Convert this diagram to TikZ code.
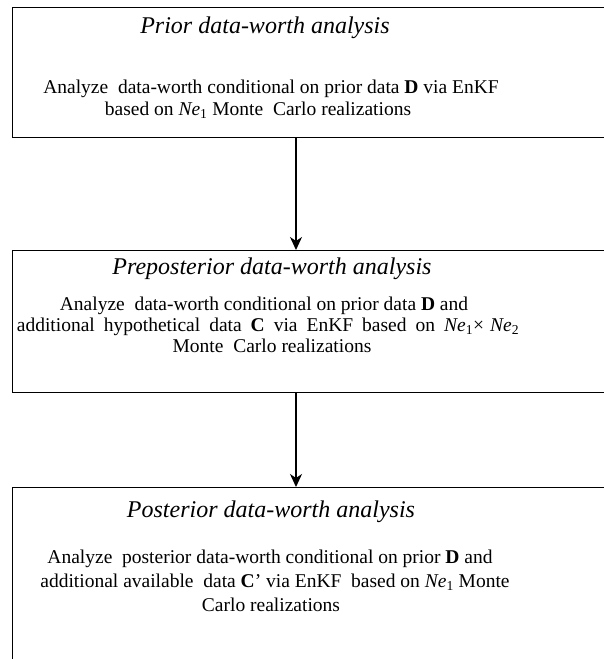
\documentclass[tikz,border=0pt]{standalone}
\usepackage{fontspec}
\setmainfont{Liberation Serif}
\usetikzlibrary{arrows.meta}
\begin{document}
\begin{tikzpicture}[x=1pt,y=-1pt,
  box/.style={draw, line width=1.4pt, anchor=north west, minimum width=620pt, inner sep=0pt},
  ttl/.style={anchor=base, inner sep=0pt, font=\fontsize{24}{28}\selectfont\itshape},
  txt/.style={anchor=base, inner sep=0pt, font=\fontsize{19.5}{22}\selectfont},
  arr/.style={line width=1.4pt, -{Stealth[length=13pt,width=12pt,inset=4pt]}}]
\useasboundingbox (0,0) rectangle (603,659);
\fill[white] (0,0) rectangle (603,659);

% three stages
\node[box, minimum height=130pt] (b1) at (12,7) {};
\node[box, minimum height=142pt] (b2) at (12,250) {};
\node[box, minimum height=200pt] (b3) at (12,487) {};

% stage 1
\node[ttl] (h1) at (265,33) {Prior data-worth analysis};
\node[txt] (l11) at (271,93) {Analyze\ \ data-worth conditional on prior data \textbf{D} via EnKF};
\node[txt] (l12) at (258,115) {based on \textit{Ne}\textsubscript{1} Monte\ \ Carlo realizations};

% stage 2
\node[ttl] (h2) at (272,274) {Preposterior data-worth analysis};
\node[txt] (l21) at (264,310) {Analyze\ \ data-worth conditional on prior data \textbf{D} and};
\node[txt] (l22) at (268,331) {\spaceskip=9pt additional hypothetical data \textbf{C} via EnKF based on \textit{Ne}\textsubscript{1}×\hspace{-3pt} \textit{Ne}\textsubscript{2}};
\node[txt] (l23) at (272,352) {Monte\ \ Carlo realizations};

% stage 3
\node[ttl] (h3) at (271,517) {Posterior data-worth analysis};
\node[txt] (l31) at (270,563) {Analyze\ \ posterior data-worth conditional on prior \textbf{D} and};
\node[txt] (l32) at (275,587) {additional available\ \ data \textbf{C}’ via EnKF\ \ based on \textit{Ne}\textsubscript{1} Monte};
\node[txt] (l33) at (271,611) {Carlo realizations};

% flow between stages
\coordinate (ax) at (296,0);
\draw[arr] (b1.south -| ax) -- (b2.north -| ax);
\draw[arr] (b2.south -| ax) -- (b3.north -| ax);
\end{tikzpicture}
\end{document}
